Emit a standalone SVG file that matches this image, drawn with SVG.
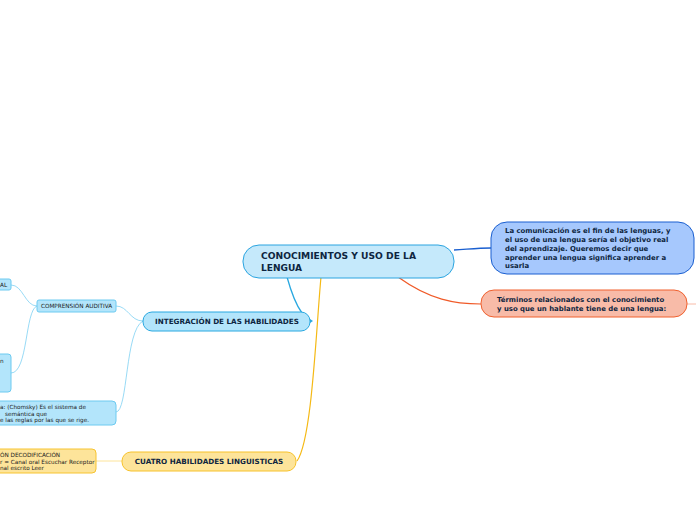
<svg xmlns="http://www.w3.org/2000/svg" width="696" height="520" viewBox="0 0 696 520">
<style>
text{font-family:"DejaVu Sans","Liberation Sans",sans-serif;}
.b{font-weight:bold;fill:#0d2540;}
.sm{font-size:5.7px;fill:#1a1a1a;}
.lb{fill:#b3e5fb;stroke:#6ccaf0;stroke-width:1;}
.ly{fill:#fde49a;stroke:#f7c430;stroke-width:1;}
.c{fill:none;}
</style>
<rect width="696" height="520" fill="#ffffff"/>
<g id="connectors">
<path class="c" d="M454,250 C470,249 478,248 491,248" stroke="#1a5fd0" stroke-width="1.3"/>
<path class="c" d="M398,277 C430,300 455,304 481,304" stroke="#f05a28" stroke-width="1.2"/>
<path class="c" d="M687,304 L696,304" stroke="#f8bba8" stroke-width="1"/>
<path class="c" d="M287,277 C292,295 296,305 302,313" stroke="#29a8e0" stroke-width="1.3"/>
<path class="c" d="M321,277 C316,330 312,440 297,461" stroke="#f5b914" stroke-width="1.2"/>
<path class="c" d="M143,321 C130,321 128,306 116,306" stroke="#7dd0f2" stroke-width="0.8"/>
<path class="c" d="M143,321 C125,330 128,412 116,412" stroke="#7dd0f2" stroke-width="0.8"/>
<path class="c" d="M37,306 C25,306 23,285 11,285" stroke="#7dd0f2" stroke-width="0.8"/>
<path class="c" d="M37,306 C25,310 28,373 11,373" stroke="#7dd0f2" stroke-width="0.8"/>
<path class="c" d="M96,461 L122,461" stroke="#fde49a" stroke-width="1"/>
</g>
<g id="central">
<rect x="243" y="245" width="211" height="33" rx="16" fill="#c5e9fb" stroke="#2aa4e0" stroke-width="1"/>
<text class="b" x="261" y="259" font-size="8.6" textLength="155" lengthAdjust="spacingAndGlyphs">CONOCIMIENTOS Y USO DE LA</text>
<text class="b" x="261" y="270.5" font-size="8.6" textLength="41" lengthAdjust="spacingAndGlyphs">LENGUA</text>
</g>
<g id="comunicacion">
<rect x="491" y="222" width="203" height="52" rx="16" fill="#a6c8fd" stroke="#1a5fd0" stroke-width="1"/>
<text class="b" font-size="6.9" x="505" y="233">La comunicación es el fin de las lenguas, y</text>
<text class="b" font-size="6.9" x="505" y="242">el uso de una lengua sería el objetivo real</text>
<text class="b" font-size="6.9" x="505" y="251">del aprendizaje. Queremos decir que</text>
<text class="b" font-size="6.9" x="505" y="259.5">aprender una lengua significa aprender a</text>
<text class="b" font-size="6.9" x="505" y="268">usarla</text>
</g>
<g id="terminos">
<rect x="481" y="290" width="206" height="27" rx="13" fill="#f8bba8" stroke="#f0602e" stroke-width="1"/>
<text class="b" font-size="6.9" x="497" y="302">Términos relacionados con el conocimiento</text>
<text class="b" font-size="6.9" x="497" y="311">y uso que un hablante tiene de una lengua:</text>
</g>
<g id="integracion">
<rect x="143" y="312" width="167" height="19" rx="9" fill="#b3e5fb" stroke="#29a8e0" stroke-width="1"/>
<path d="M310,319 L313,321 L310,323 Z" fill="#29a8e0"/>
<text class="b" font-size="7.2" x="227" y="324.2" text-anchor="middle">INTEGRACIÓN DE LAS HABILIDADES</text>
</g>
<g id="cuatro">
<rect x="122" y="452" width="174" height="19" rx="9" fill="#fde49a" stroke="#f7c22b" stroke-width="1"/>
<text class="b" font-size="7.2" x="209" y="464.2" text-anchor="middle">CUATRO HABILIDADES LINGUISTICAS</text>
</g>
<g id="comprension">
<rect class="lb" x="37" y="300" width="79" height="12" rx="2"/>
<text class="sm" x="41" y="308.2" font-size="5.4">COMPRENSIÓN AUDITIVA</text>
</g>
<g id="al">
<rect class="lb" x="-10" y="279" width="21" height="11" rx="2"/>
<text class="sm" x="0" y="287">AL</text>
</g>
<g id="n">
<rect class="lb" x="-10" y="354" width="21" height="38" rx="3"/>
<text class="sm" x="0" y="363">n</text>
</g>
<g id="chomsky">
<rect class="lb" x="-10" y="401" width="126" height="24" rx="4"/>
<text class="sm" x="0" y="409">a: (Chomsky) Es el sistema de</text>
<text class="sm" x="5" y="415.5">semántica que</text>
<text class="sm" x="0" y="422">e las reglas por las que se rige.</text>
</g>
<g id="decodificacion">
<rect class="ly" x="-10" y="449" width="106" height="24" rx="4"/>
<text class="sm" x="0" y="457">ÓN DECODIFICACIÓN</text>
<text class="sm" x="0" y="463.5">r = Canal oral Escuchar Receptor</text>
<text class="sm" x="0" y="470">nal escrito Leer</text>
</g>
</svg>
